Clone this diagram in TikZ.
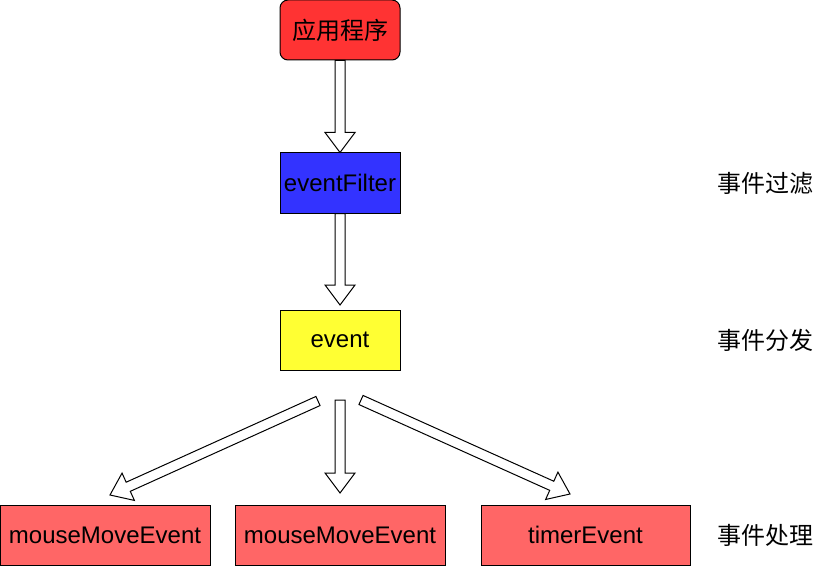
\documentclass[tikz,border=0pt]{standalone}
\usepackage{fontspec}
\setmainfont{Liberation Sans}
\newfontfamily\cjk{Noto Sans CJK SC}
\usetikzlibrary{calc}
\definecolor{appred}{HTML}{FF3333}
\definecolor{filterblue}{HTML}{3333FF}
\definecolor{eventyellow}{HTML}{FFFF33}
\definecolor{handlerred}{HTML}{FF6666}
\newcommand\shaftw{3.75pt}
\newcommand\headw{11.25pt}
\newcommand\headl{15pt}
\tikzset{
  box/.style={draw, line width=0.75pt, minimum height=45pt, inner sep=0pt,
    font=\fontsize{18}{20}\selectfont},
  lbl/.style={font=\cjk\fontsize{18}{20}\selectfont},
  fatarrow/.style={draw, fill=white, line width=0.75pt, to path={
    ($(\tikztostart)!\shaftw!90:(\tikztotarget)$)
    -- ($(\tikztotarget)!\headl!(\tikztostart)!\shaftw!-90:(\tikztostart)$)
    -- ($(\tikztotarget)!\headl!(\tikztostart)!\headw!-90:(\tikztostart)$)
    -- (\tikztotarget)
    -- ($(\tikztotarget)!\headl!(\tikztostart)!\headw!90:(\tikztostart)$)
    -- ($(\tikztotarget)!\headl!(\tikztostart)!\shaftw!90:(\tikztostart)$)
    -- ($(\tikztostart)!\shaftw!-90:(\tikztotarget)$) -- cycle}}
}
\begin{document}
\begin{tikzpicture}[x=0.75pt, y=-0.75pt]
  \useasboundingbox (0,0) rectangle (822,567);

  % chain of boxes
  \node[box, fill=appred, rounded corners=6pt, minimum width=90pt] (app) at (340,30) {\cjk 应用程序};
  \node[box, fill=filterblue, minimum width=90pt] (filter) at (340,183) {eventFilter};
  \node[box, fill=eventyellow, minimum width=90pt] (event) at (340,340) {event};

  % handlers
  \node[box, fill=handlerred, minimum width=157.5pt] (mouse1) at (105,535) {mouseMoveEvent};
  \node[box, fill=handlerred, minimum width=157.5pt] (mouse2) at (340,535) {mouseMoveEvent};
  \node[box, fill=handlerred, minimum width=156.75pt] (timer) at (585.5,535) {timerEvent};

  % side labels
  \node[lbl] (lfilter) at (765,183) {事件过滤};
  \node[lbl] (ldispatch) at (765,340) {事件分发};
  \node[lbl] (lhandle) at (765,535) {事件处理};

  % arrow ends
  \coordinate (e2) at (340,305);
  \coordinate (s3) at (340,400);
  \coordinate (e3) at (340,493);
  \coordinate (s4) at (318,401);
  \coordinate (e4) at (110,495);
  \coordinate (s5) at (361,400);
  \coordinate (e5) at (570,494);

  \path[fatarrow] (app.south) to (filter.north);
  \path[fatarrow] (filter.south) to (e2);
  \path[fatarrow] (s3) to (e3);
  \path[fatarrow] (s4) to (e4);
  \path[fatarrow] (s5) to (e5);
\end{tikzpicture}
\end{document}
